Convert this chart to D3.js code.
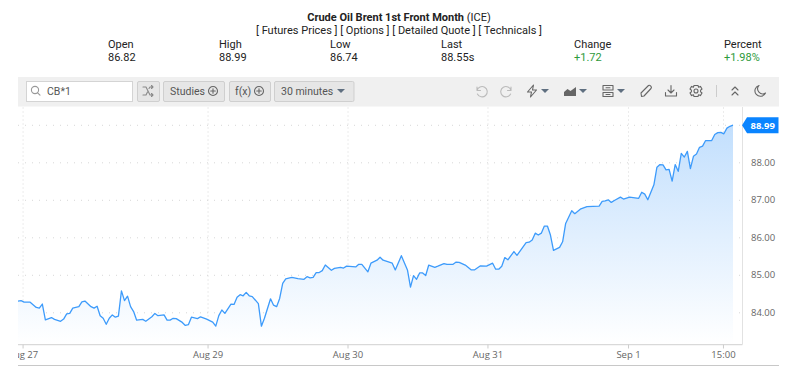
<!DOCTYPE html>
<html lang="en">
<head>
<meta charset="UTF-8">
<title>Crude Oil Brent 1st Front Month (ICE)</title>
<script src="https://d3js.org/d3.v7.min.js"></script>
<style>
    body { margin: 0; overflow: hidden; background: #fff; }
    svg { display: block; }
    text { font-family: Roboto, sans-serif; }
    .head { font-size: 11px; fill: #222; }
    .btn-text { font-size: 10.5px; fill: #555; }
    .axis text { font-family: "Open Sans", sans-serif; font-size: 9.5px; fill: #666; }
    .axis path { display: none; }
    .axis line { stroke: #ccc; }
    .grid line { stroke: #d8d8d8; stroke-dasharray: 1 3; }
    .grid.horizontal line { stroke-dasharray: 1 6; }
    .grid path { display: none; }
    .icon { fill: none; stroke: #666; stroke-width: 1.1; stroke-linecap: round; stroke-linejoin: round; }
</style>
</head>
<body>
<svg id="chart" width="800" height="366"></svg>
<script>
// 30 minute bars, only the bars where the line visibly turns
const bars = [0,1,2,4,6,7,8,9,11,12,14,15,16,17,18,20,21,22,24,25,26,27,28,29,30,31,32,33,34,35,36,37,38,39,
    41,42,44,45,46,48,49,50,51,52,54,55,56,57,59,60,62,64,65,66,67,68,70,71,72,73,74,75,76,77,79,80,81,83,84,85,86,87,88,89,90,
    92,94,95,96,97,98,99,100,101,103,104,106,107,108,111,112,113,115,116,118,119,120,123,124,126,128,129,130,131,132,133,134,135,
    137,138,140,141,143,144,145,147,149,150,152,154,156,157,158,159,160,161,163,164,167,168,169,170,171,172,173,174,175,176,178,179,180,
    182,183,185,187,191,192,193,194,195,196,198,199,201,204,205,206,207,209,210,211,212,213,214,215,216,217,218,219,220,221,222,223,224,225,226,
    228,229,230,231,232,233,234,235];
const closes = [84.30,84.31,84.27,84.27,84.13,84.11,84.22,83.80,83.86,83.81,83.76,83.82,83.96,83.97,84.11,84.15,84.28,84.30,84.15,84.11,84.16,83.91,83.84,83.68,83.84,83.93,83.87,83.90,84.57,84.31,84.43,84.15,84.02,83.79,
    83.81,83.76,83.88,83.97,83.91,83.93,83.79,83.79,83.84,83.83,83.73,83.65,83.67,83.87,83.83,83.88,83.82,83.74,83.63,83.91,84.06,83.97,84.22,84.21,84.40,84.47,84.44,84.53,84.44,84.42,84.23,83.63,83.84,84.36,84.19,84.15,84.37,84.77,84.89,84.91,84.93,
    84.90,84.88,84.95,84.92,84.93,85.06,85.06,85.11,85.26,85.12,85.17,85.20,85.18,85.23,85.21,85.28,85.28,85.08,85.31,85.39,85.47,85.39,85.31,85.13,85.51,85.13,84.67,84.98,84.88,85.05,85.05,84.98,85.26,
    85.20,85.23,85.30,85.28,85.28,85.34,85.33,85.26,85.13,85.13,85.24,85.23,85.31,85.15,85.15,85.23,85.46,85.40,85.62,85.52,85.86,85.87,85.93,86.11,86.06,86.11,86.30,86.30,86.06,85.65,85.73,85.88,86.37,
    86.71,86.63,86.76,86.82,86.83,86.96,86.97,87.00,86.93,86.98,87.07,87.02,87.07,87.04,87.20,87.15,87.00,87.40,87.87,87.94,87.93,87.80,87.81,87.50,87.94,87.76,88.24,88.14,88.29,87.83,88.16,88.22,88.40,88.43,88.58,
    88.58,88.74,88.79,88.80,88.76,88.91,88.96,88.99];

const tickBars = [1.5, 62.3, 108.3, 154.3, 200.5, 231.7];
const tickLabels = ["Aug 27", "Aug 29", "Aug 30", "Aug 31", "Sep 1", "15:00"];
const priceTicks = [84, 85, 86, 87, 88];
const gridPrices = [84, 85, 86, 87, 88, 89];
const lastPrice = "88.99";

const statNames = ["Open", "High", "Low", "Last", "Change", "Percent"];
const statValues = ["86.82", "88.99", "86.74", "88.55s", "+1.72", "+1.98%"];

const svg = d3.select("#chart");
const plotLeft = 18, plotRight = 742, plotTop = 107, plotBottom = 344.5;

// header
const title = svg.append("text").attr("class", "head").attr("x", 399).attr("y", 21).attr("text-anchor", "middle");
title.append("tspan").attr("font-weight", 700).text("Crude Oil Brent 1st Front Month ");
title.append("tspan").text("(ICE)");
svg.append("text").attr("class", "head").attr("x", 399).attr("y", 34).attr("text-anchor", "middle")
    .text("[ Futures Prices ] [ Options ] [ Detailed Quote ] [ Technicals ]");

const statX = [108, 219, 330, 441, 574, 724];
statNames.forEach((name, i) => {
    svg.append("text").attr("class", "head").attr("x", statX[i]).attr("y", 48).text(name);
    svg.append("text").attr("class", "head").attr("x", statX[i]).attr("y", 61)
        .style("fill", i > 3 ? "#2e9a3c" : null).text(statValues[i]);
});

// toolbar
svg.append("rect").attr("x", 18).attr("y", 77).attr("width", 761).attr("height", 29.5).attr("fill", "#f0f0f0");
svg.append("rect").attr("x", 26.5).attr("y", 81.5).attr("width", 106).attr("height", 20).attr("fill", "#fff").attr("stroke", "#d4d4d4");
svg.append("circle").attr("class", "icon").attr("cx", 35).attr("cy", 90).attr("r", 3.6).style("stroke", "#999");
svg.append("path").attr("class", "icon").attr("d", "M37.6,92.8L40,95.2").style("stroke", "#999");
svg.append("text").attr("class", "btn-text").attr("x", 47).attr("y", 95).text("CB*1");

[[137, 22], [163, 61], [229, 41], [274, 79.5]].forEach(b => {
    svg.append("rect").attr("x", b[0] + 0.5).attr("y", 81.5).attr("width", b[1]).attr("height", 20).attr("rx", 1.5)
        .attr("fill", "#e6e6e6").attr("stroke", "#cfcfcf");
});
svg.append("text").attr("class", "btn-text").attr("x", 170).attr("y", 95).text("Studies");
svg.append("text").attr("class", "btn-text").attr("x", 235).attr("y", 95).text("f(x)");
svg.append("text").attr("class", "btn-text").attr("x", 281).attr("y", 95).text("30 minutes");

function drawIcon(x, y, d, color) {
    svg.append("path").attr("class", "icon").attr("transform", `translate(${x},${y})`).attr("d", d)
        .style("stroke", color || null);
}
function drawCaret(x) {
    svg.append("path").attr("transform", `translate(${x},91)`).attr("d", "M-4,-2L4,-2L0,2Z").attr("fill", "#5f6f80");
}
const plusCircle = "M-4.5,0A4.5,4.5 0 1 1 4.5,0A4.5,4.5 0 1 1 -4.5,0M-2.3,0L2.3,0M0,-2.3L0,2.3";
drawIcon(148, 91, "M-5,-4L-2,-4L2,4L5,4M-5,4L-2,4L-0.5,1M1,-2.5L2,-4L5,-4M3.5,-5.5L5,-4L3.5,-2.5M3.5,2.5L5,4L3.5,5.5", "#888");
drawIcon(213, 91, plusCircle);
drawIcon(259, 91, plusCircle);
drawCaret(341);

const undo = "M-4,-4L-4,-0.5L-0.5,-0.5M-4,-0.5A5.2,5.2 0 1 1 -3.6,3";
drawIcon(481, 91, undo, "#bbb");
drawIcon(507, 91, "M4,-4L4,-0.5L0.5,-0.5M4,-0.5A5.2,5.2 0 1 0 3.6,3", "#bbb");
drawIcon(532, 91, "M1.5,-6L-4.5,1L-0.5,1L-1.5,6L4.5,-1L0.5,-1Z");
drawCaret(545);
svg.append("path").attr("transform", "translate(570,91)").attr("fill", "#666")
    .attr("d", "M-6,5L-6,1L-2.5,-2L0.5,0L6,-4L6,5Z");
drawCaret(583);
drawIcon(608, 91, "M-5,-5.5L5,-5.5L5,-1L-5,-1ZM-5,1.5L5,1.5L5,5.5L-5,5.5ZM-2,-3.2L2,-3.2M-2,3.5L2,3.5");
drawCaret(621);
drawIcon(646, 91, "M-4.5,5.5L-5,2L2.5,-5.5Q3.5,-6.2 4.8,-4.8Q6,-3.5 5,-2.5L-2,5Z");
drawIcon(671, 91, "M0,-5.5L0,2M-3,-1L0,2L3,-1M-5.5,1.5L-5.5,5L5.5,5L5.5,1.5");
drawIcon(696, 91, "M-2,-5.5L2,-5.5L2.6,-3.8L4.4,-4.6L6,-2L4.6,-0.8L4.6,0.8L6,2L4.4,4.6L2.6,3.8L2,5.5L-2,5.5L-2.6,3.8L-4.4,4.6L-6,2L-4.6,0.8L-4.6,-0.8L-6,-2L-4.4,-4.6L-2.6,-3.8ZM-2,0A2,2 0 1 0 2,0A2,2 0 1 0 -2,0");
svg.append("line").attr("x1", 716.5).attr("x2", 716.5).attr("y1", 85).attr("y2", 97).attr("stroke", "#ccc");
drawIcon(735, 91, "M-3,-1L0,-4L3,-1M-3,4L0,1L3,4");
drawIcon(760, 91, "M-1,-5.5A5.5,5.5 0 1 0 5.5,2A5,5 0 0 1 -1,-5.5Z");

// scales
const x = d3.scaleLinear().domain([0, 235]).range([18, 733]);
const y = d3.scaleLinear().domain([84, 89]).range([312.3, 124.8]);
const points = bars.map((b, i) => [b, closes[i]]);

const defs = svg.append("defs");
defs.append("clipPath").attr("id", "plot-clip").append("rect")
    .attr("x", plotLeft).attr("y", 0).attr("width", 782).attr("height", 366);
const grad = defs.append("linearGradient").attr("id", "area-fill")
    .attr("gradientUnits", "userSpaceOnUse")
    .attr("x1", 0).attr("x2", 0).attr("y1", y(89)).attr("y2", plotBottom);
grad.append("stop").attr("offset", 0).attr("stop-color", "#c2dffd");
grad.append("stop").attr("offset", 1).attr("stop-color", "#ffffff");

// gridlines
svg.append("g").attr("class", "grid").attr("transform", `translate(0,${plotBottom})`)
    .call(d3.axisBottom(x).tickValues(tickBars).tickSize(-(plotBottom - plotTop)).tickFormat(""));
svg.append("g").attr("class", "grid horizontal").attr("transform", `translate(${plotLeft},0)`)
    .call(d3.axisRight(y).tickValues(gridPrices).tickSize(plotRight - plotLeft - 2).tickFormat(""));

// area and line
svg.append("path").datum(points).attr("fill", "url(#area-fill)")
    .attr("d", d3.area().x(d => x(d[0])).y0(plotBottom).y1(d => y(d[1])));
svg.append("path").datum(points).attr("fill", "none").attr("stroke", "#3d9bfb").attr("stroke-width", 1.3)
    .attr("stroke-linejoin", "round")
    .attr("d", d3.line().x(d => x(d[0])).y(d => y(d[1])));

// frame
svg.append("line").attr("x1", plotLeft).attr("x2", plotRight + 0.5).attr("y1", plotBottom + 0.2).attr("y2", plotBottom + 0.2).attr("stroke", "#d0d0d0");
svg.append("line").attr("x1", plotRight + 0.5).attr("x2", plotRight + 0.5).attr("y1", plotTop).attr("y2", plotBottom).attr("stroke", "#e2e2e2");
svg.append("line").attr("x1", plotLeft).attr("x2", 779).attr("y1", 365.5).attr("y2", 365.5).attr("stroke", "#c8c8c8");

// axes
svg.append("g").attr("class", "axis").attr("clip-path", "url(#plot-clip)")
    .attr("transform", `translate(0,${plotBottom})`)
    .call(d3.axisBottom(x).tickValues(tickBars).tickSize(4).tickPadding(3).tickFormat((d, i) => tickLabels[i]));
svg.append("g").attr("class", "axis").attr("transform", "translate(751,0)")
    .call(d3.axisRight(y).tickValues(priceTicks).tickSize(0).tickPadding(0).tickFormat(d3.format(".2f")));

// last price badge
const badgeY = y(closes[closes.length - 1]);
svg.append("path").attr("transform", `translate(742,${badgeY})`)
    .attr("d", "M0,0L5,-8L36.5,-8L36.5,8L5,8Z").attr("fill", "#0a84ff");
svg.append("text").attr("x", 750.5).attr("y", badgeY + 3.5).attr("fill", "#fff")
    .style("font-family", '"Open Sans", sans-serif').style("font-size", "9.5px").style("font-weight", 700)
    .text(lastPrice);
</script>
</body>
</html>
